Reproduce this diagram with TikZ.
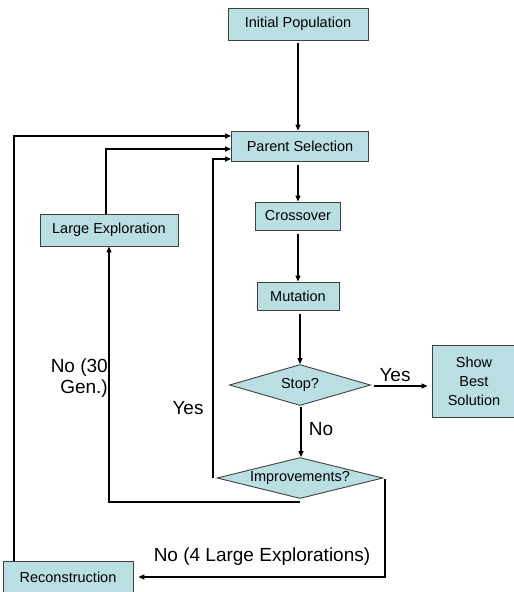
\documentclass[tikz,border=0pt]{standalone}
\usepackage{fontspec}
\setmainfont{Liberation Sans}
\usetikzlibrary{arrows.meta,shapes.geometric}
\definecolor{boxfill}{RGB}{185,223,227}
\definecolor{boxline}{RGB}{64,64,64}
\begin{document}
\begin{tikzpicture}[x=1pt,y=-1pt,
  box/.style={draw=boxline,fill=boxfill,line width=0.9pt,inner sep=0pt,font=\fontsize{14.5}{16.5}\selectfont,align=center},
  dia/.style={diamond,draw=boxline,fill=boxfill,line width=0.9pt,inner sep=0pt,shape aspect=4,font=\fontsize{14.5}{16.5}\selectfont},
  arr/.style={line width=1.3pt,-{Triangle[length=6pt,width=5pt]}},
  lbl/.style={font=\fontsize{19}{21}\selectfont,inner sep=0pt}]
\useasboundingbox (0,0) rectangle (514,592);
\node[box,minimum width=140pt,minimum height=32pt] (init) at (298,24) {Initial Population};
\node[box,minimum width=137pt,minimum height=30pt] (parent) at (300,146) {Parent Selection};
\node[box,minimum width=85pt,minimum height=28pt] (cross) at (298,216) {Crossover};
\node[box,minimum width=138pt,minimum height=32pt] (large) at (109,230) {Large Exploration};
\node[box,minimum width=82pt,minimum height=28pt] (mut) at (298,296) {Mutation};
\node[dia,minimum width=141pt,minimum height=41pt] (stop) at (300,385) {Stop?};
\node[box,minimum width=84pt,minimum height=72pt,font=\fontsize{14.5}{19}\selectfont] (show) at (474,381) {Show\\Best\\Solution};
\node[dia,minimum width=166pt,minimum height=41pt] (impr) at (300,478) {Improvements?};
\node[box,minimum width=130pt,minimum height=31pt] (recon) at (68,577) {Reconstruction};
% labels
\node[lbl] (yes1) at (395,375) {Yes};
\node[lbl] (no1) at (321,429) {No};
\node[lbl] (yes2) at (188,408) {Yes};
\node[lbl,align=right,anchor=east] (no30) at (108,378) {No (30\\Gen.)};
\node[lbl] (no4) at (262,557) {No (4 Large Explorations)};
% coordinates
\coordinate (c1) at (213,478);
\coordinate (c2) at (300,502);
\coordinate (c3) at (385,479);
\coordinate (c4) at (14,561);
% connectors
\draw[arr] ([yshift=-3pt]init.south) -- (init.south |- parent.north);
\draw[arr] ([xshift=-2pt,yshift=-4pt]parent.south) -- ([xshift=-2pt]parent.south |- cross.north);
\draw[arr] ([yshift=-4pt]cross.south) -- (cross.south |- mut.north);
\draw[arr] ([xshift=2pt,yshift=-4pt]mut.south) -- ([xshift=2pt]mut.south |- stop.north);
\draw[arr] ([xshift=3pt,yshift=-1pt]stop.east) -- ([xshift=-4pt,yshift=-5pt]show.west);
\draw[arr] ([xshift=1pt,yshift=-1pt]stop.south) -- ([xshift=1pt]impr.north);
\draw[arr] (c1) |- ([yshift=-13pt]parent.west);
\draw[arr] (c2) -| (large.south);
\draw[arr] ([xshift=-3pt]large.north) |- ([yshift=-3pt]parent.west);
\draw[arr] (c3) |- ([xshift=5pt]recon.east);
\draw[arr] (c4) |- ([yshift=10pt]parent.west);
\end{tikzpicture}
\end{document}
